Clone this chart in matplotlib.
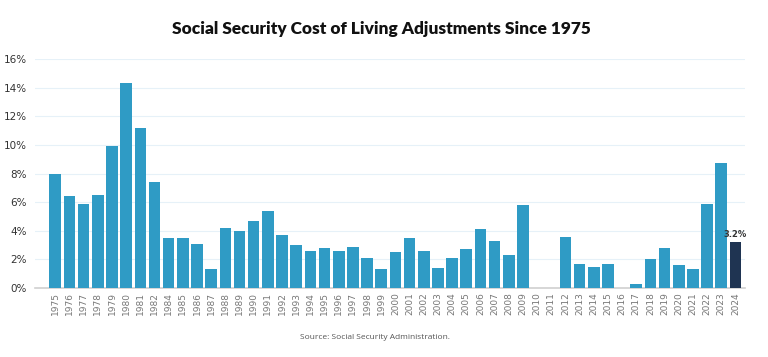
import numpy as np
import matplotlib.pyplot as plt

# --- DADOS ---
years = ['1975', '1976', '1977', '1978', '1979', '1980', '1981', '1982', '1984', '1985',
         '1986', '1987', '1988', '1989', '1990', '1991', '1992', '1993', '1994', '1995',
         '1996', '1997', '1998', '1999', '2000', '2001', '2002', '2003', '2004', '2005',
         '2006', '2007', '2008', '2009', '2010', '2011', '2012', '2013', '2014', '2015',
         '2016', '2017', '2018', '2019', '2020', '2021', '2022', '2023', '2024']
cola = [8.0, 6.4, 5.9, 6.5, 9.9, 14.3, 11.2, 7.4, 3.5, 3.5,
        3.1, 1.3, 4.2, 4.0, 4.7, 5.4, 3.7, 3.0, 2.6, 2.8,
        2.6, 2.9, 2.1, 1.3, 2.5, 3.5, 2.6, 1.4, 2.1, 2.7,
        4.1, 3.3, 2.3, 5.8, 0.0, 0.0, 3.6, 1.7, 1.5, 1.7,
        0.0, 0.3, 2.0, 2.8, 1.6, 1.3, 5.9, 8.7, 3.2]
y_ticks = [0, 2, 4, 6, 8, 10, 12, 14, 16]

BLUE = '#2f9bc5'
NAVY = '#1f3452'

fig = plt.figure(figsize=(7.68, 3.57), dpi=100)
ax = fig.add_axes([0.046, 0.193, 0.924, 0.642])

x = np.arange(len(years))
colors = [BLUE] * (len(years) - 1) + [NAVY]
ax.bar(x, cola, width=0.82, color=colors, zorder=3)

# rótulo do último valor
ax.text(x[-1], cola[-1] + 0.25, f'{cola[-1]:.1f}%', ha='center', va='bottom',
        fontsize=6, fontweight='bold', color='#333333', zorder=4)

ax.set_xlim(-1.41, len(years) - 0.33)
ax.set_ylim(0, 16)
ax.set_yticks(y_ticks)
ax.set_yticklabels([f'{v}%' for v in y_ticks], fontsize=7.5, color='#333333')
ax.set_xticks(x)
ax.set_xticklabels(years, rotation=90, fontsize=6.5, color='#777777')
ax.tick_params(axis='both', length=0, pad=3)
ax.tick_params(axis='y', pad=6)

ax.grid(axis='y', color='#e6f1f8', linewidth=0.8, zorder=0)
for s in ['top', 'right', 'left']:
    ax.spines[s].set_visible(False)
ax.spines['bottom'].set_color('#d0d0d0')
ax.spines['bottom'].set_linewidth(1.2)

fig.text(0.497, 0.92, 'Social Security Cost of Living Adjustments Since 1975',
         ha='center', va='center', fontsize=12.4, fontweight='heavy',
         family='Lato', color='#111111')
fig.text(0.488, 0.055, 'Source: Social Security Administration.',
         ha='center', va='center', fontsize=6, family='Open Sans', color='#555555')

fig.savefig('out.png', dpi=100, facecolor='white')
